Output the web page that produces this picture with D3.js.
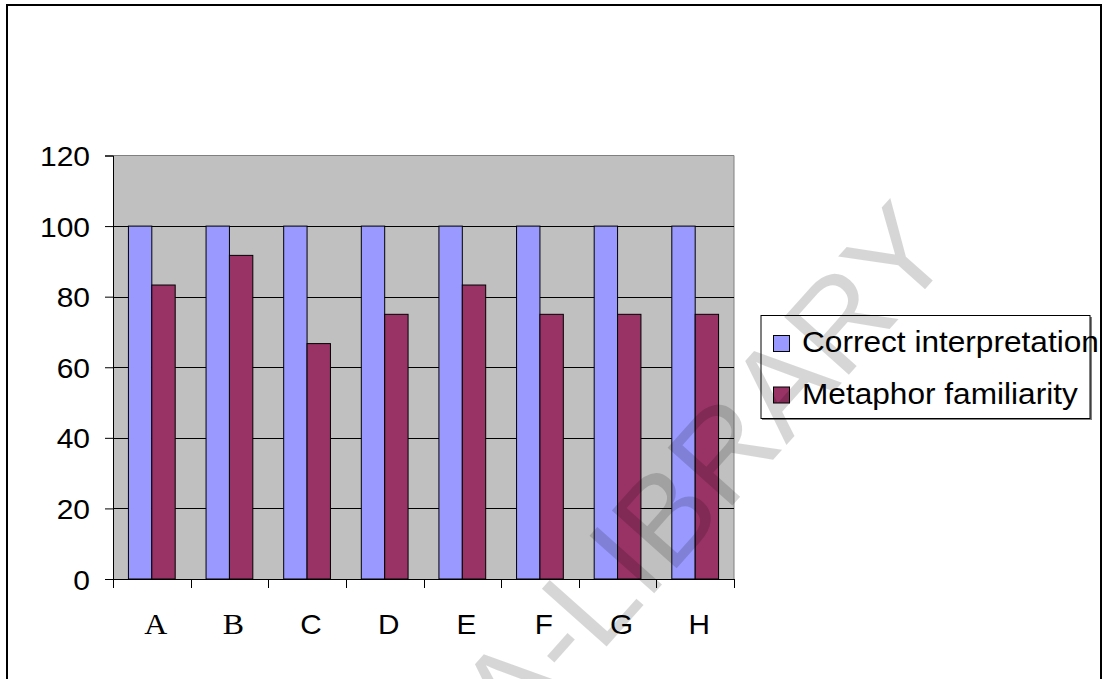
<!DOCTYPE html>
<html><head><meta charset="utf-8">
<script src="https://cdn.jsdelivr.net/npm/d3@7"></script>
<style>html,body{margin:0;padding:0;background:#fff;}svg{display:block;}</style>
</head><body>
<script>
const categories = ["A","B","C","D","E","F","G","H"];
const serifCats = ["A","B"];
const seriesNames = ["Correct interpretation","Metaphor familiarity"];
const correctInterpretation = [100,100,100,100,100,100,100,100];
const metaphorFamiliarity = [83.3,91.7,66.7,75,83.3,75,75,75];
const yTicks = [0,20,40,60,80,100,120];
const colors = ["#9999FF","#993366"];
const watermark = "A-LIBRARY";

(function(){
const W = 1105, H = 679;
const svg = d3.select("body").append("svg").attr("width",W).attr("height",H);

// outer frame
svg.append("rect").attr("x",7).attr("y",5).attr("width",1094).attr("height",800)
  .attr("fill","none").attr("stroke","#000").attr("stroke-width",2);

const pL = 113, pR = 734, pT = 155.5, pB = 579;
const x = d3.scaleBand().domain(categories).range([pL,pR]);
const y = d3.scaleLinear().domain([0,120]).range([pB,pT]);
const inner = d3.scaleBand().domain([0,1]).range([0,x.bandwidth()]).paddingInner(0).paddingOuter(0.66);

// plot background
svg.append("rect").attr("x",pL).attr("y",pT).attr("width",pR-pL).attr("height",pB-pT).attr("fill","#C0C0C0");
svg.append("path").attr("d",`M${pL},${pT}H${pR}V${pB}`).attr("fill","none").attr("stroke","#808080").attr("stroke-width",1);

// gridlines
svg.append("g").selectAll("line").data(yTicks.filter(t=>t>0 && t<120)).join("line")
  .attr("x1",pL).attr("x2",pR).attr("y1",d=>Math.round(y(d))+0.5).attr("y2",d=>Math.round(y(d))+0.5)
  .attr("stroke","#000").attr("stroke-width",1);

// bars
const data = categories.map((c,i)=>({c, vals:[correctInterpretation[i], metaphorFamiliarity[i]]}));
const g = svg.append("g");
data.forEach(d=>{
  d.vals.forEach((v,k)=>{
    g.append("rect").attr("x",x(d.c)+inner(k)).attr("y",y(v)).attr("width",inner.bandwidth()).attr("height",y(0)-y(v))
      .attr("fill",colors[k]).attr("stroke","#000").attr("stroke-width",1);
  });
});

// y axis
const yAxis = svg.append("g").attr("transform",`translate(${pL},0)`)
  .call(d3.axisLeft(y).tickValues(yTicks).tickSize(8).tickFormat(d3.format("d")));
yAxis.select(".domain").attr("stroke","#000");
yAxis.selectAll(".tick line").attr("stroke","#000");
yAxis.selectAll(".tick text").each(function(d){
  d3.select(this).attr("x",null).attr("dy",null).attr("y",null)
   .attr("transform",`translate(-23,10) scale(1.11,1)`)
   .attr("font-family","Arial, 'Liberation Sans', sans-serif").attr("font-size",27).attr("fill","#000")
   .attr("text-anchor","end");
});

// x axis
const xAxis = svg.append("g").attr("transform",`translate(0,${pB})`)
  .call(d3.axisBottom(x).tickSize(0).tickFormat(""));
xAxis.select(".domain").attr("stroke","#000");
const bounds = categories.map(c=>x(c)).concat([x(categories[categories.length-1])+x.bandwidth()]);
svg.append("g").selectAll("line").data(bounds).join("line")
  .attr("x1",d=>Math.round(d)+0.5).attr("x2",d=>Math.round(d)+0.5).attr("y1",pB).attr("y2",pB+9)
  .attr("stroke","#000");
svg.append("g").selectAll("text").data(categories).join("text")
  .attr("transform",c=>`translate(${x(c)+x.bandwidth()/2+4},634) scale(1.1,1)`)
  .attr("text-anchor","middle")
  .attr("font-family",c=>serifCats.includes(c)?"'Times New Roman','Liberation Serif',serif":"Arial,'Liberation Sans',sans-serif")
  .attr("font-size",c=>serifCats.includes(c)?29:27)
  .attr("fill","#000").text(c=>c);

// legend
const lg = svg.append("g");
lg.append("rect").attr("x",762).attr("y",317).attr("width",330).attr("height",103).attr("fill","#808080");
lg.append("rect").attr("x",761).attr("y",315.5).attr("width",329).attr("height",103).attr("fill","#fff").attr("stroke","#000");
seriesNames.forEach((s,i)=>{
  const yy = 352 + i*51.5;
  lg.append("rect").attr("x",773.5).attr("y",yy-16.5).attr("width",16).attr("height",16)
    .attr("fill",colors[i]).attr("stroke","#000");
  lg.append("text").attr("transform",`translate(802,${yy}) scale(1.09,1)`)
    .attr("font-family","Arial,'Liberation Sans',sans-serif").attr("font-size",29).attr("fill","#000").text(s);
});

// watermark
svg.append("text").attr("transform","translate(704,472) rotate(-48.3)")
  .attr("text-anchor","middle").attr("dominant-baseline","central")
  .attr("font-family","Arial,'Liberation Sans',sans-serif").attr("font-size",126)
  .attr("fill","#000").attr("fill-opacity",0.16).text(watermark);
})();
</script>
</body></html>
